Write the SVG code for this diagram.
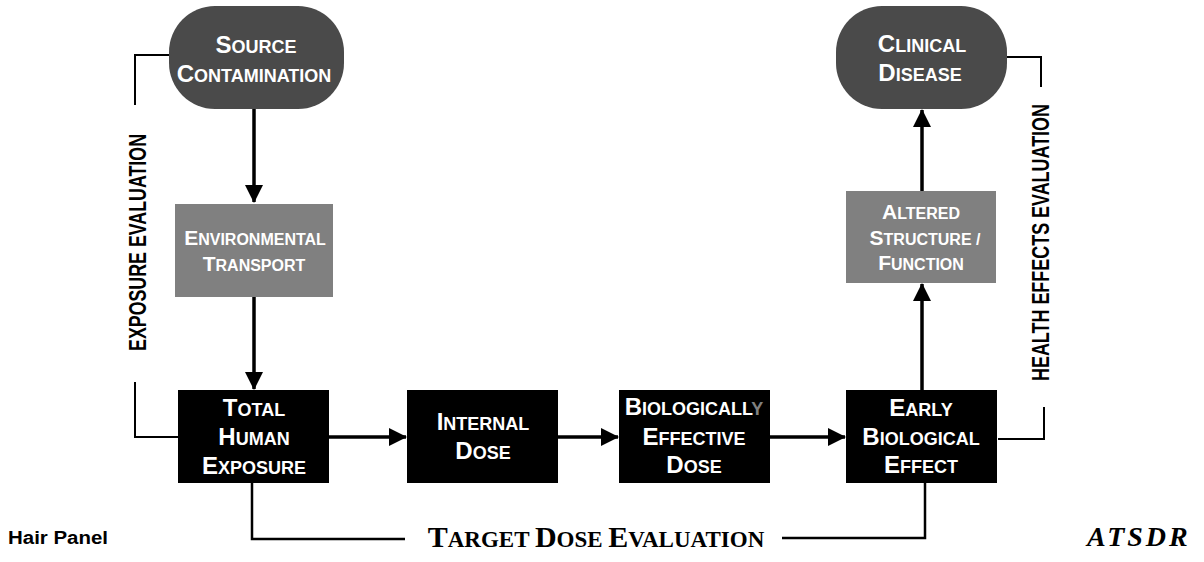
<svg xmlns="http://www.w3.org/2000/svg" width="1204" height="562" viewBox="0 0 1204 562">
<defs>
<marker id="ah" markerUnits="userSpaceOnUse" markerWidth="18" markerHeight="18" viewBox="0 0 18 18" refX="17" refY="9" orient="auto">
<path d="M0,0 L18,9 L0,18 Z" fill="#000"/>
</marker>
</defs>
<style>
.pill{fill:#4a4a4a;}
.gray{fill:#808080;}
.blk{fill:#000;}
.lbl{font-family:"Liberation Sans",Arial,sans-serif;font-weight:bold;fill:#fff;text-anchor:middle;}
.L{font-size:24px;}
.S{font-size:18px;}
.gL{font-size:21px;}
.gS{font-size:16px;}
.conn{stroke:#000;stroke-width:3.5;fill:none;}
.brk{stroke:#000;stroke-width:2;fill:none;}
.vt{font-family:"Liberation Sans",Arial,sans-serif;font-weight:bold;font-size:23px;fill:#000;}
.tde{font-family:"Liberation Serif","Times New Roman",serif;font-weight:bold;fill:#000;text-anchor:middle;}
</style>
<rect width="1204" height="562" fill="#fff"/>

<g id="connectors">
<line class="conn" x1="254" y1="109" x2="254" y2="202" marker-end="url(#ah)"/>
<line class="conn" x1="254" y1="297" x2="254" y2="389" marker-end="url(#ah)"/>
<line class="conn" x1="329" y1="437" x2="406" y2="437" marker-end="url(#ah)"/>
<line class="conn" x1="558" y1="437" x2="618" y2="437" marker-end="url(#ah)"/>
<line class="conn" x1="770" y1="437" x2="845" y2="437" marker-end="url(#ah)"/>
<line class="conn" x1="922" y1="390" x2="922" y2="284" marker-end="url(#ah)"/>
<line class="conn" x1="922" y1="191" x2="922" y2="110" marker-end="url(#ah)"/>
<polyline class="brk" points="169,55 135,55 135,105"/>
<polyline class="brk" points="135,382 135,437 178,437"/>
<polyline class="brk" points="1006,57 1041,57 1041,87"/>
<polyline class="brk" points="1044,407 1044,439 998,439"/>
<polyline class="conn" style="stroke-width:2.5" points="252,483 252,539 405,539"/>
<polyline class="conn" style="stroke-width:2.5" points="925,483 925,538 782,538"/>
</g>

<g id="source">
<rect class="pill" x="169" y="6" width="175" height="103" rx="46" ry="46"/>
<text class="lbl" x="256" y="53"><tspan class="L">S</tspan><tspan class="S">OURCE</tspan></text>
<text class="lbl" x="254" y="82"><tspan class="L">C</tspan><tspan class="S">ONTAMINATION</tspan></text>
</g>

<g id="env">
<rect class="gray" x="175" y="204" width="158" height="93"/>
<text class="lbl" x="255" y="245"><tspan class="gL">E</tspan><tspan class="gS">NVIRONMENTAL</tspan></text>
<text class="lbl" x="254" y="271"><tspan class="gL">T</tspan><tspan class="gS">RANSPORT</tspan></text>
</g>

<g id="total">
<rect class="blk" x="178" y="390" width="151" height="93"/>
<text class="lbl" x="254" y="416"><tspan class="L">T</tspan><tspan class="S">OTAL</tspan></text>
<text class="lbl" x="254" y="445"><tspan class="L">H</tspan><tspan class="S">UMAN</tspan></text>
<text class="lbl" x="254" y="474"><tspan class="L">E</tspan><tspan class="S">XPOSURE</tspan></text>
</g>

<g id="internal">
<rect class="blk" x="407" y="390" width="151" height="93"/>
<text class="lbl" x="483" y="430"><tspan class="L">I</tspan><tspan class="S">NTERNAL</tspan></text>
<text class="lbl" x="483" y="459"><tspan class="L">D</tspan><tspan class="S">OSE</tspan></text>
</g>

<g id="bed">
<rect class="blk" x="619" y="390" width="151" height="93"/>
<text class="lbl" x="694" y="415"><tspan class="L">B</tspan><tspan class="S">IOLOGICALL</tspan><tspan class="S" style="fill:#808080">Y</tspan></text>
<text class="lbl" x="694" y="445"><tspan class="L">E</tspan><tspan class="S">FFECTIVE</tspan></text>
<text class="lbl" x="694" y="473"><tspan class="L">D</tspan><tspan class="S">OSE</tspan></text>
</g>

<g id="early">
<rect class="blk" x="846" y="390" width="151" height="93"/>
<text class="lbl" x="921" y="416"><tspan class="L">E</tspan><tspan class="S">ARLY</tspan></text>
<text class="lbl" x="921" y="445"><tspan class="L">B</tspan><tspan class="S">IOLOGICAL</tspan></text>
<text class="lbl" x="921" y="473"><tspan class="L">E</tspan><tspan class="S">FFECT</tspan></text>
</g>

<g id="altered">
<rect class="gray" x="846" y="191" width="150" height="92"/>
<text class="lbl" x="921" y="219"><tspan class="gL">A</tspan><tspan class="gS">LTERED</tspan></text>
<text class="lbl" x="925" y="245"><tspan class="gL">S</tspan><tspan class="gS">TRUCTURE /</tspan></text>
<text class="lbl" x="921" y="270"><tspan class="gL">F</tspan><tspan class="gS">UNCTION</tspan></text>
</g>

<g id="clinical">
<rect class="pill" x="836" y="6" width="171" height="103" rx="46" ry="46"/>
<text class="lbl" x="922" y="52"><tspan class="L">C</tspan><tspan class="S">LINICAL</tspan></text>
<text class="lbl" x="920" y="81"><tspan class="L">D</tspan><tspan class="S">ISEASE</tspan></text>
</g>

<g id="labels">
<text class="vt" transform="translate(146,351) rotate(-90)" textLength="217" lengthAdjust="spacingAndGlyphs">EXPOSURE EVALUATION</text>
<text class="vt" transform="translate(1049,381) rotate(-90)" textLength="277" lengthAdjust="spacingAndGlyphs">HEALTH EFFECTS EVALUATION</text>
<text class="tde" x="596" y="547"><tspan style="font-size:30px">T</tspan><tspan style="font-size:23px">ARGET </tspan><tspan style="font-size:30px">D</tspan><tspan style="font-size:23px">OSE </tspan><tspan style="font-size:30px">E</tspan><tspan style="font-size:23px">VALUATION</tspan></text>
<text x="8" y="544" style="font-family:'Liberation Sans',Arial,sans-serif;font-weight:bold;font-size:18px;fill:#000" textLength="100" lengthAdjust="spacingAndGlyphs">Hair Panel</text>
<text x="1087" y="546" style="font-family:'Liberation Serif','Times New Roman',serif;font-weight:bold;font-style:italic;font-size:28px;letter-spacing:3px;fill:#000">ATSDR</text>
</g>
</svg>
